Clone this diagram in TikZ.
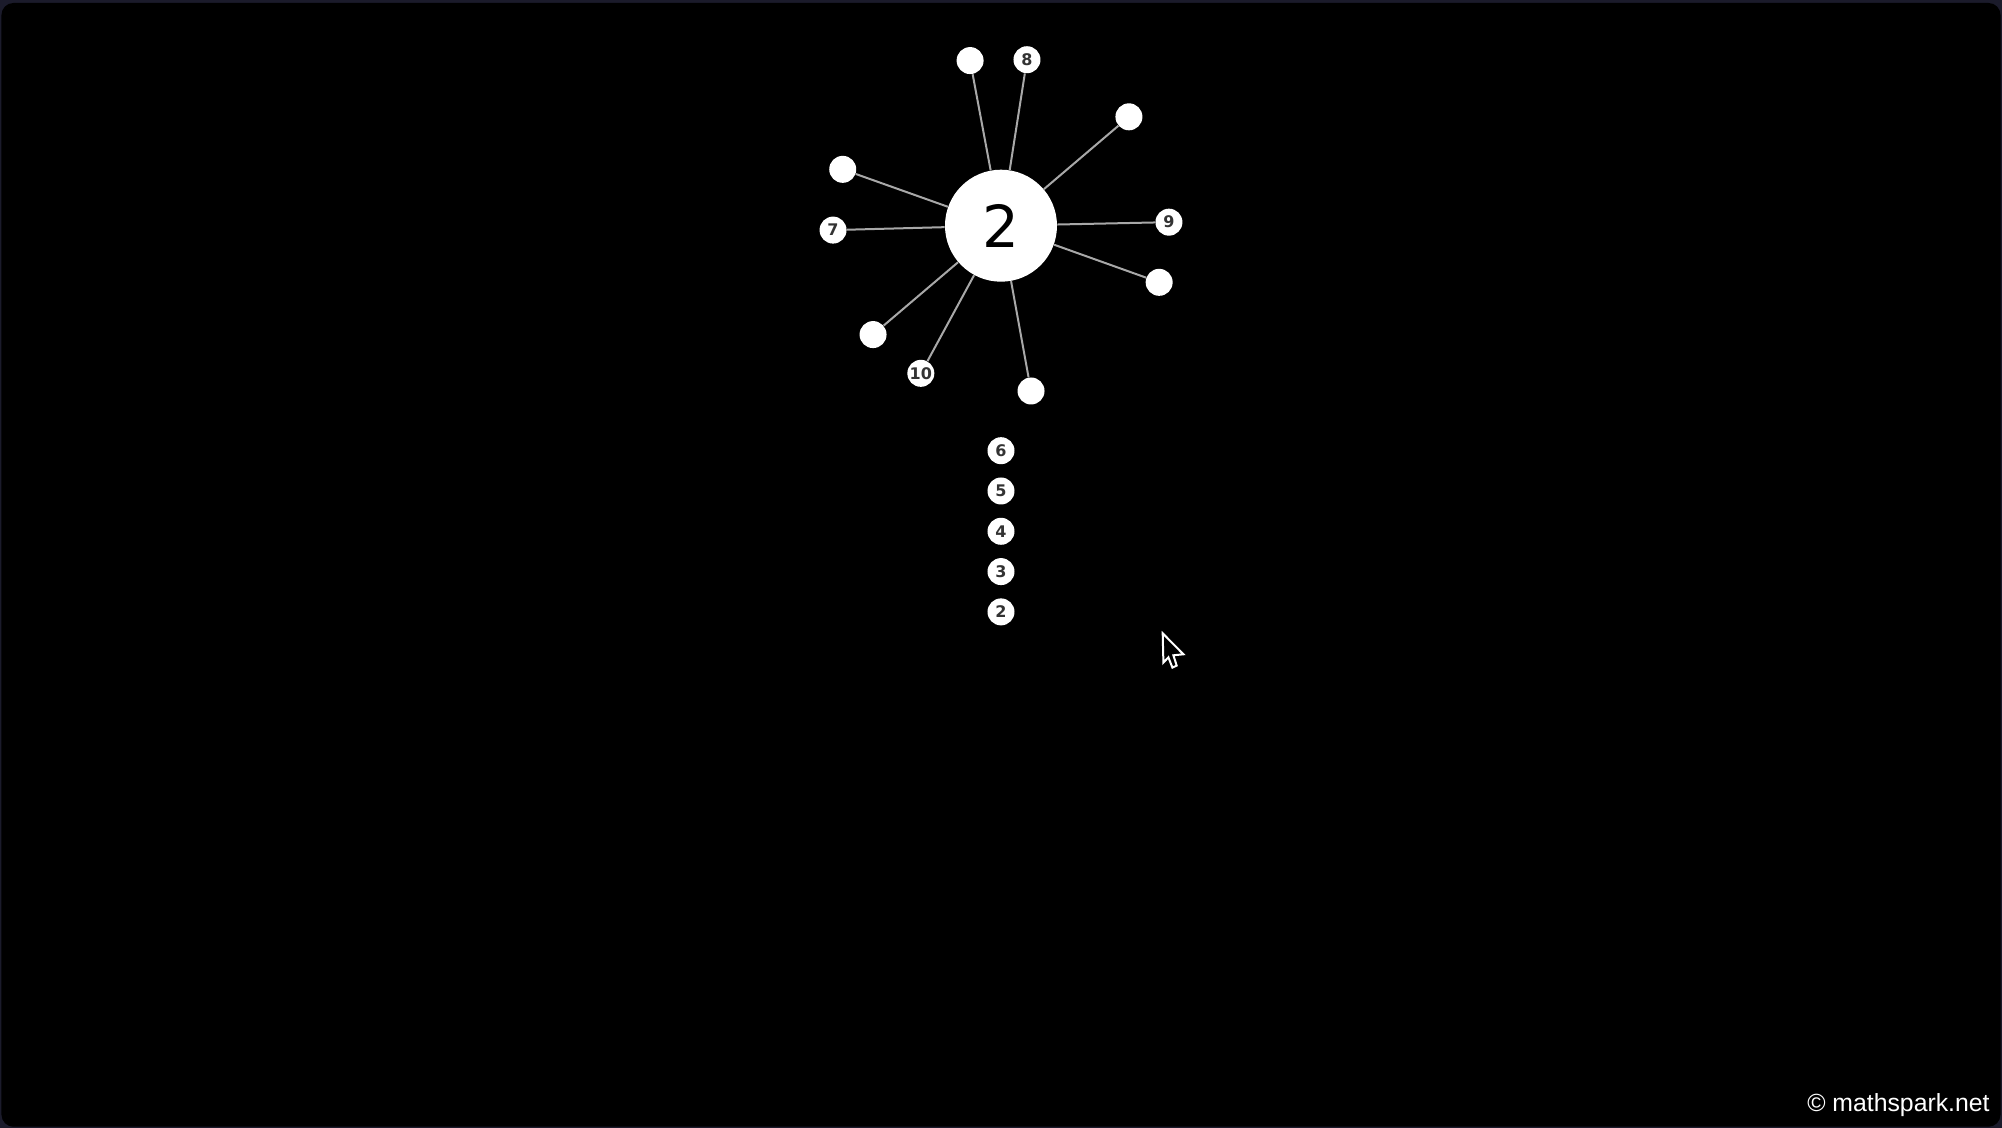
\documentclass[tikz,border=0pt]{standalone}
\usepackage{fontspec}
\setmainfont{DejaVu Sans}
\newfontfamily\credfont{Liberation Sans}
\definecolor{frameC}{HTML}{1B1B2B}
\definecolor{stickC}{HTML}{A8A8A8}
\definecolor{digitC}{HTML}{333333}
\begin{document}
\begin{tikzpicture}[x=0.5pt,y=0.5pt,hubS/.style={shape=circle,fill=white,minimum size=56pt,inner sep=0pt,font=\fontsize{29}{29}\selectfont},pinS/.style={shape=circle,fill=white,minimum size=13.5pt,inner sep=0pt,text=digitC,font=\bfseries\fontsize{8}{8}\selectfont},stickS/.style={draw=stickC,line width=1pt},cursorS/.style={draw=white,fill=black,line width=1pt,line join=miter}]
\useasboundingbox (-1001,225.7) rectangle (1001,-902.3);
\fill[frameC] (-1001,225.7) rectangle (1001,-902.3);
\fill[black,rounded corners=6pt] (-999.5,222.7) rectangle (999.5,-901);

\node[hubS] (H) at (0,0) {2};

\node[pinS] (Pa) at (100.6:168) {};
\node[pinS] (P8) at (81.1:168) {8};
\node[pinS] (Pb) at (40.4:168) {};
\node[pinS] (Pc) at (160.4:168) {};
\node[pinS] (P7) at (181.5:168) {7};
\node[pinS] (P9) at (1.2:168) {9};
\node[pinS] (Pd) at (340.3:168) {};
\node[pinS] (Pe) at (220.4:168) {};
\node[pinS] (P10) at (241.5:168) {10};
\node[pinS] (Pf) at (280.3:168) {};

\draw[stickS] (H) -- (Pa);
\draw[stickS] (H) -- (P8);
\draw[stickS] (H) -- (Pb);
\draw[stickS] (H) -- (Pc);
\draw[stickS] (H) -- (P7);
\draw[stickS] (H) -- (P9);
\draw[stickS] (H) -- (Pd);
\draw[stickS] (H) -- (Pe);
\draw[stickS] (H) -- (P10);
\draw[stickS] (H) -- (Pf);

\node[pinS] (Q6) at (0,-225) {6};
\node[pinS] (Q5) at (0,-265.3) {5};
\node[pinS] (Q4) at (0,-305.6) {4};
\node[pinS] (Q3) at (0,-345.9) {3};
\node[pinS] (Q2) at (0,-386.2) {2};

\draw[cursorS,shift={(161.7,-407.6)}] (0,0) -- (0.7,-29.3) -- (5.7,-24) -- (9.7,-34.3) -- (14,-32.3) -- (10.7,-22) -- (20.7,-21) -- cycle;

\node[anchor=base east,text=white,font=\credfont\fontsize{12.4}{12.4}\selectfont,inner sep=0pt] (credit) at (989,-886) {© mathspark.net};
\end{tikzpicture}
\end{document}
